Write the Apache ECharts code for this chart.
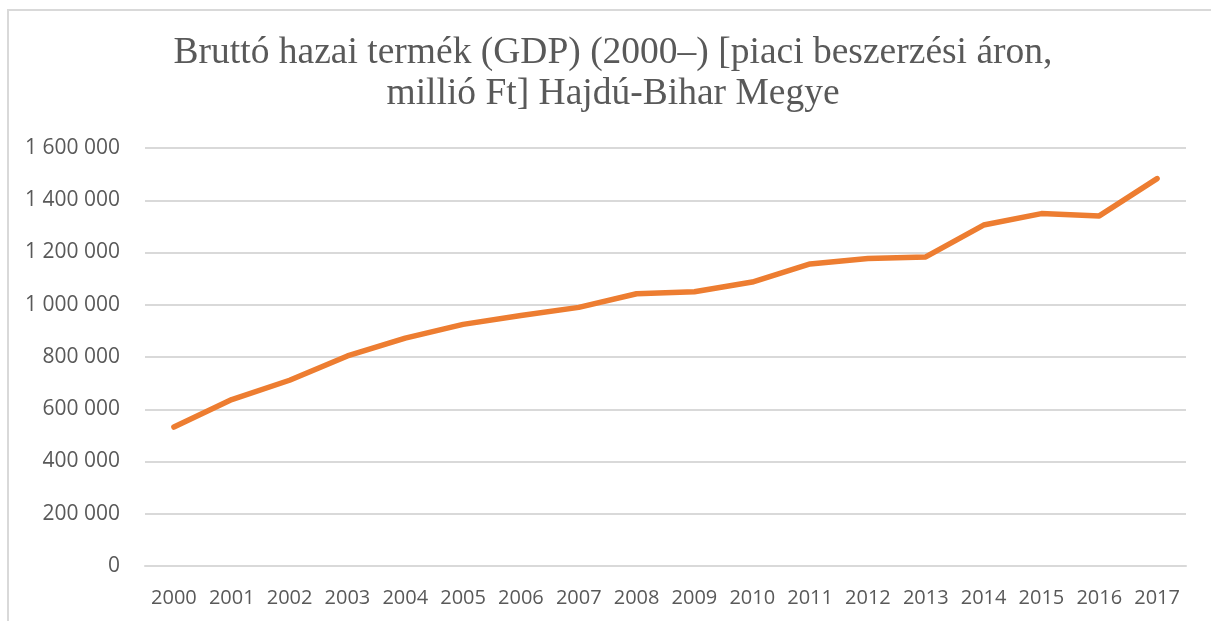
<!DOCTYPE html>
<html>
<head>
<meta charset="utf-8">
<script src="https://cdn.jsdelivr.net/npm/echarts@6/dist/echarts.min.js"></script>
<style>
html, body { margin: 0; padding: 0; background: #fff; }
#frame {
    position: absolute;
    left: 7px;
    top: 9px;
    width: 1300px;
    height: 700px;
    border: 2px solid #d9d9d9;
}
#main {
    position: absolute;
    left: 0;
    top: 0;
    width: 1211px;
    height: 621px;
}
</style>
</head>
<body>
<div id="frame"></div>
<div id="main"></div>
<script>
// évek
var years = ['2000', '2001', '2002', '2003', '2004', '2005', '2006', '2007', '2008',
    '2009', '2010', '2011', '2012', '2013', '2014', '2015', '2016', '2017'];
// GDP, millió Ft (leolvasva)
var gdp = [532000, 637000, 711000, 804000, 872000, 925000, 959000, 990000, 1042000,
    1050000, 1087000, 1156000, 1177000, 1183000, 1305000, 1349000, 1340000, 1483000];
var yTicks = [0, 200000, 400000, 600000, 800000, 1000000, 1200000, 1400000, 1600000];

var titleText = 'Bruttó hazai termék (GDP) (2000–) [piaci beszerzési áron,\nmillió Ft] Hajdú-Bihar Megye';

function fmt(v) {
    return String(v).replace(/\B(?=(\d{3})+(?!\d))/g, ' ');
}

var chart = echarts.init(document.getElementById('main'), null, { renderer: 'canvas' });
var option = {
    animation: false,
    // cím: graphic szövegként, hogy a közepe pontosan beállítható legyen
    graphic: [{
        type: 'text',
        x: 613,
        y: 33,
        style: {
            text: titleText,
            align: 'center',
            verticalAlign: 'top',
            fontFamily: 'Liberation Serif',
            fontSize: 37.5,
            lineHeight: 41,
            fill: '#595959'
        }
    }],
    grid: {
        left: 145,
        right: 25,
        top: 148,
        bottom: 55
    },
    xAxis: {
        type: 'category',
        data: years,
        boundaryGap: true,
        axisLine: { lineStyle: { color: '#d9d9d9', width: 2 } },
        axisTick: { show: false },
        axisLabel: {
            color: '#595959',
            fontFamily: 'Open Sans',
            fontSize: 20,
            margin: 22,
            interval: 0
        }
    },
    yAxis: {
        type: 'value',
        min: yTicks[0],
        max: yTicks[yTicks.length - 1],
        interval: 200000,
        axisLine: { show: false },
        axisTick: { show: false },
        splitLine: { lineStyle: { color: '#d9d9d9', width: 2 } },
        axisLabel: {
            color: '#595959',
            fontFamily: 'Open Sans',
            fontSize: 21,
            margin: 25,
            formatter: fmt
        }
    },
    series: [{
        type: 'line',
        data: gdp,
        symbol: 'none',
        lineStyle: { color: '#ed7d31', width: 5.5, cap: 'round', join: 'round' }
    }]
};
chart.setOption(option);
</script>
</body>
</html>
